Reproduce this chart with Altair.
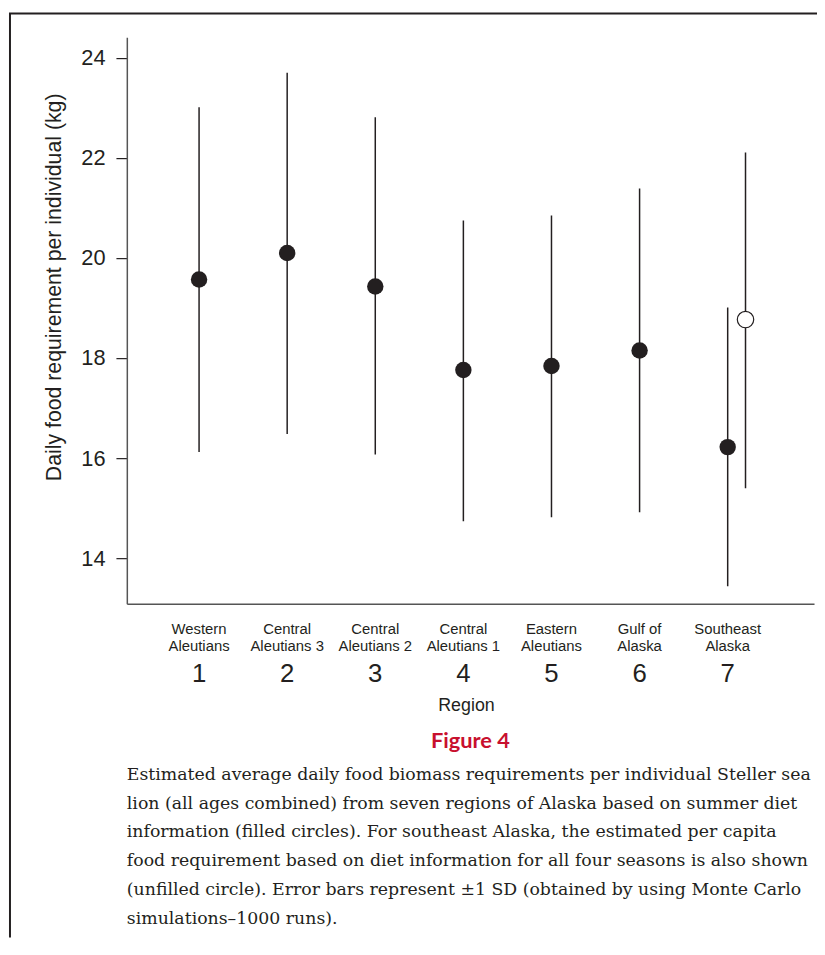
import altair as alt
import pandas as pd

# ---------------- data ----------------
region_num = [1, 2, 3, 4, 5, 6, 7]
region_name = [
    "Western\nAleutians",
    "Central\nAleutians 3",
    "Central\nAleutians 2",
    "Central\nAleutians 1",
    "Eastern\nAleutians",
    "Gulf of\nAlaska",
    "Southeast\nAlaska",
]
summer_mean = [19.57, 20.10, 19.43, 17.76, 17.84, 18.15, 16.22]
summer_low = [16.12, 16.48, 16.07, 14.74, 14.82, 14.92, 13.44]
summer_high = [23.01, 23.70, 22.81, 20.75, 20.85, 21.39, 19.01]

annual_region = [7]
annual_mean = [18.77]
annual_low = [15.40]
annual_high = [22.11]

y_ticks = [14, 16, 18, 20, 22, 24]

caption_lines = [
    "Estimated average daily food biomass requirements per individual Steller sea",
    "lion (all ages combined) from seven regions of Alaska based on summer diet",
    "information (filled circles). For southeast Alaska, the estimated per capita",
    "food requirement based on diet information for all four seasons is also shown",
    "(unfilled circle). Error bars represent \u00b11 SD (obtained by using Monte Carlo",
    "simulations\u20131000 runs).",
]

# ---------------- tables ----------------
summer_df = pd.DataFrame({
    "region": region_num,
    "name": region_name,
    "mean": summer_mean,
    "low": summer_low,
    "high": summer_high,
})
annual_df = pd.DataFrame({
    "region": annual_region,
    "mean": annual_mean,
    "low": annual_low,
    "high": annual_high,
})
caption_df = pd.DataFrame({"text": ["\n".join(caption_lines)]})
single_df = pd.DataFrame({"k": [0]})

# ---------------- style ----------------
INK = "#231f20"
AXIS = "#555555"
SANS = "Liberation Sans"
SERIF = "DejaVu Serif"
W, H = 694, 572
PAD_L, PAD_T, PAD_R, PAD_B = 120, 25, 3, 335

x_scale = alt.Scale(domain=[0.18, 7.98], nice=False, zero=False)
y_scale = alt.Scale(domain=[13.09, 24.41], nice=False, zero=False)

x_axis = alt.Axis(labels=False, ticks=False, title=None, grid=False,
                  domainColor=AXIS, domainWidth=1.5)
y_axis = alt.Axis(values=y_ticks, grid=False,
                  title="Daily food requirement per individual (kg)",
                  titleFont=SANS, titleFontSize=21.5, titleFontWeight="normal",
                  titleColor=INK, titlePadding=16, titleY=252,
                  labelFont=SANS, labelFontSize=22, labelColor=INK,
                  labelPadding=11, labelFlush=False, labelOverlap=False,
                  tickSize=11, tickColor=INK, tickWidth=1.2,
                  domainColor=AXIS, domainWidth=1.5)

summer = alt.Chart(summer_df)
annual = alt.Chart(annual_df)

summer_bars = summer.mark_rule(color=INK, strokeWidth=1.5).encode(
    x=alt.X("region:Q", scale=x_scale, axis=x_axis),
    y=alt.Y("low:Q", scale=y_scale, axis=y_axis),
    y2="high:Q",
)
summer_pts = summer.mark_point(filled=True, shape="circle", size=275,
                               color=INK, opacity=1).encode(
    x="region:Q", y="mean:Q",
)
annual_bars = annual.mark_rule(color=INK, strokeWidth=1.5, xOffset=18).encode(
    x="region:Q", y="low:Q", y2="high:Q",
)
annual_pts = annual.mark_point(filled=True, shape="circle", size=275,
                               fill="white", stroke=INK, strokeWidth=1.2,
                               opacity=1, xOffset=18).encode(
    x="region:Q", y="mean:Q",
)

names = summer.mark_text(font=SANS, fontSize=15, color=INK, baseline="top",
                         lineBreak="\n", lineHeight=17).encode(
    x="region:Q", y=alt.value(H + 19), text="name:N",
)
numbers = summer.mark_text(font=SANS, fontSize=26, color=INK,
                           baseline="middle").encode(
    x="region:Q", y=alt.value(H + 71), text="region:Q",
)

region_title = alt.Chart(single_df).mark_text(
    font=SANS, fontSize=18, color=INK, baseline="middle", text="Region"
).encode(x=alt.value(W / 2 - 4), y=alt.value(H + 103))

fig_title = alt.Chart(single_df).mark_text(
    font="Lato", fontSize=22, fontWeight="bold", color="#c8102e",
    baseline="middle", text="Figure 4"
).encode(x=alt.value(W / 2), y=alt.value(H + 139))

caption = alt.Chart(caption_df).mark_text(
    font=SERIF, fontSize=17.5, color=INK, align="left", baseline="middle",
    lineBreak="\n", lineHeight=29
).encode(x=alt.value(0), y=alt.value(H + 173), text="text:N")

frame_left = alt.Chart(single_df).mark_rule(color=INK, strokeWidth=2).encode(
    x=alt.value(-118), y=alt.value(-24), y2=alt.value(H + PAD_B + 2)
)
frame_top = alt.Chart(single_df).mark_rule(color=INK, strokeWidth=2).encode(
    x=alt.value(-119), x2=alt.value(W + PAD_R + 2), y=alt.value(-24)
)

chart = alt.layer(
    frame_left, frame_top,
    summer_bars, annual_bars, summer_pts, annual_pts,
    names, numbers, region_title, fig_title, caption,
).properties(
    width=W, height=H,
    autosize=alt.AutoSizeParams(type="none"),
    padding={"left": PAD_L, "top": PAD_T, "right": PAD_R, "bottom": PAD_B},
    background="white",
).configure_view(stroke=None)

chart.save("out.html", embed_options={"renderer": "svg", "actions": False})
